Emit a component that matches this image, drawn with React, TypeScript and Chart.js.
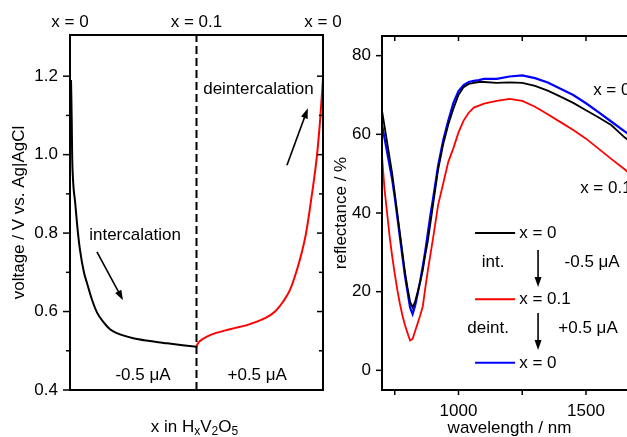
import React, { useEffect, useRef } from "react";
import { Chart, registerables } from "chart.js";

Chart.register(...registerables);

const FONT = '"Liberation Sans", Arial, sans-serif';
Chart.defaults.font.family = FONT;

// ---------- Left panel: voltage vs x ----------
const xIntercalation = [0.0008, 0.0011, 0.0014, 0.0017, 0.0025, 0.004, 0.0063, 0.0079, 0.011, 0.0134, 0.0174, 0.0213, 0.026, 0.0316, 0.037, 0.05, 0.063, 0.077, 0.089, 0.1];
const vIntercalation = [1.19, 1.14, 1.08, 1.0, 0.93, 0.88, 0.8, 0.757, 0.7, 0.673, 0.63, 0.598, 0.575, 0.555, 0.545, 0.532, 0.525, 0.519, 0.514, 0.51];
const xDeintercalation = [0.1, 0.1006, 0.105, 0.1107, 0.1265, 0.1423, 0.1542, 0.1621, 0.1684, 0.1739, 0.1802, 0.1834, 0.1866, 0.1913, 0.1953, 0.198, 0.2];
const vDeintercalation = [0.51, 0.516, 0.53, 0.54, 0.555, 0.568, 0.583, 0.6, 0.625, 0.655, 0.715, 0.753, 0.8, 0.9, 1.0, 1.1, 1.195];
const voltageTicks = [0.4, 0.6, 0.8, 1.0, 1.2];
const voltageMinorTicks = [0.5, 0.7, 0.9, 1.1];
const topLabels = ["x = 0", "x = 0.1", "x = 0"];
const topLabelX = [0, 0.1, 0.2];

// ---------- Right panel: reflectance spectra ----------
const wavelengths = [700, 710, 720, 730, 740, 750, 760, 770, 780, 790, 800, 810, 820, 830, 840, 850, 860, 870, 880, 890, 900, 920, 940, 960, 980, 1000, 1020, 1040, 1060, 1080, 1100, 1150, 1200, 1250, 1300, 1350, 1400, 1450, 1500, 1550, 1600, 1650, 1700];
const reflX0 = [66, 62, 58, 54, 50, 45, 40, 35, 30, 25, 21, 17.5, 16, 17.5, 20, 22.5, 25.5, 29.5, 33, 37.5, 42, 51, 57.5, 62.5, 66.5, 70, 72, 72.8, 73.1, 73.3, 73.3, 73.1, 73.2, 73.1, 72.3, 71.1, 69.6, 68, 66.1, 64.3, 62.3, 59.3, 56.8];
const reflX01 = [54.5, 46, 40, 34, 29, 24.5, 20.5, 17, 14, 11.5, 9.5, 7.6, 8, 10, 12, 14, 16.3, 21, 25.5, 29.5, 33.5, 42, 47.5, 53, 56.5, 60.5, 63.5, 65.5, 66.8, 67.3, 67.8, 68.5, 69, 68.5, 67, 65.1, 63.1, 61.1, 58.9, 56.3, 53.7, 51.2, 48.5];
const reflX0Back = [62.5, 59, 55.5, 52, 48.5, 44, 39, 34, 29, 24, 20, 16, 14.3, 16.5, 19.5, 22.8, 26.5, 30.5, 35, 39.5, 43.5, 52, 58.5, 63.5, 68, 71, 72.5, 73.3, 73.6, 73.8, 74.1, 74.1, 74.7, 75.0, 74.3, 73.2, 71.6, 70, 67.9, 65.6, 63.2, 60.8, 58.6];
const reflTicks = [0, 20, 40, 60, 80];
const wlTicks = [750, 1000, 1250, 1500];
const wlLabels = [1000, 1500];

function arrow(ctx: CanvasRenderingContext2D, x1: number, y1: number, x2: number, y2: number) {
  const head = 10;
  const w = 3.5;
  const ang = Math.atan2(y2 - y1, x2 - x1);
  const c = Math.cos(ang);
  const s = Math.sin(ang);
  ctx.beginPath();
  ctx.moveTo(x1, y1);
  ctx.lineTo(x2 - head * 0.8 * c, y2 - head * 0.8 * s);
  ctx.stroke();
  ctx.beginPath();
  ctx.moveTo(x2, y2);
  ctx.lineTo(x2 - head * c + w * s, y2 - head * s - w * c);
  ctx.lineTo(x2 - head * c - w * s, y2 - head * s + w * c);
  ctx.closePath();
  ctx.fill();
}

function seg(ctx: CanvasRenderingContext2D, x1: number, y1: number, x2: number, y2: number) {
  ctx.beginPath();
  ctx.moveTo(x1, y1);
  ctx.lineTo(x2, y2);
  ctx.stroke();
}

const leftDecor = {
  id: "leftDecor",
  afterDraw(chart: any) {
    const { ctx, chartArea: a } = chart;
    const x = chart.scales.x;
    const y = chart.scales.y;
    ctx.save();
    ctx.strokeStyle = "#000";
    ctx.fillStyle = "#000";
    ctx.lineWidth = 2;
    ctx.strokeRect(a.left, a.top, a.right - a.left, a.bottom - a.top);
    ctx.lineWidth = 1.5;
    voltageTicks.forEach((v) => {
      const py = y.getPixelForValue(v);
      seg(ctx, a.left - 7, py, a.left, py);
      seg(ctx, a.right - 6, py, a.right, py);
    });
    voltageMinorTicks.forEach((v) => {
      const py = y.getPixelForValue(v);
      seg(ctx, a.left - 4, py, a.left, py);
      seg(ctx, a.right - 4, py, a.right, py);
    });
    ctx.font = `17px ${FONT}`;
    ctx.textBaseline = "middle";
    ctx.textAlign = "center";
    topLabels.forEach((t, i) => {
      ctx.fillText(t, x.getPixelForValue(topLabelX[i]), a.top - 13);
    });
    ctx.fillText("intercalation", x.getPixelForValue(0.0514), y.getPixelForValue(0.795));
    ctx.fillText("deintercalation", x.getPixelForValue(0.149), y.getPixelForValue(1.167));
    ctx.fillText("-0.5 \u03bcA", x.getPixelForValue(0.0577), y.getPixelForValue(0.438));
    ctx.fillText("+0.5 \u03bcA", x.getPixelForValue(0.148), y.getPixelForValue(0.438));
    ctx.lineWidth = 1.6;
    arrow(ctx, x.getPixelForValue(0.0213), y.getPixelForValue(0.752), x.getPixelForValue(0.0419), y.getPixelForValue(0.629));
    arrow(ctx, x.getPixelForValue(0.1715), y.getPixelForValue(0.973), x.getPixelForValue(0.188), y.getPixelForValue(1.118));

    // y title
    ctx.save();
    ctx.translate(19, (a.top + a.bottom) / 2);
    ctx.rotate(-Math.PI / 2);
    ctx.fillText("voltage / V vs. Ag|AgCl", 0, 0);
    ctx.restore();

    // x title with subscripts
    const parts: [string, boolean][] = [["x in H", false], ["x", true], ["V", false], ["2", true], ["O", false], ["5", true]];
    const big = `17px ${FONT}`;
    const small = `12px ${FONT}`;
    let total = 0;
    parts.forEach(([t, sub]) => {
      ctx.font = sub ? small : big;
      total += ctx.measureText(t).width;
    });
    let cx = (a.left + a.right) / 2 - total / 2 - 2;
    const ty = 427;
    ctx.textAlign = "left";
    parts.forEach(([t, sub]) => {
      ctx.font = sub ? small : big;
      ctx.fillText(t, cx, sub ? ty + 5 : ty);
      cx += ctx.measureText(t).width;
    });
    ctx.restore();
  },
};

const rightDecor = {
  id: "rightDecor",
  afterDraw(chart: any) {
    const { ctx, chartArea: a } = chart;
    const x = chart.scales.x;
    const y = chart.scales.y;
    ctx.save();
    ctx.strokeStyle = "#000";
    ctx.fillStyle = "#000";
    ctx.lineWidth = 2;
    ctx.strokeRect(a.left, a.top, a.right - a.left, a.bottom - a.top);
    ctx.lineWidth = 1.5;
    reflTicks.forEach((v) => {
      const py = y.getPixelForValue(v);
      seg(ctx, a.left - 6, py, a.left, py);
    });
    wlTicks.forEach((v) => {
      const px = x.getPixelForValue(v);
      seg(ctx, px, a.top, px, a.top + 5);
      seg(ctx, px, a.bottom, px, a.bottom + 5);
    });
    ctx.font = `17px ${FONT}`;
    ctx.textBaseline = "middle";

    // legend
    const legend: [string, string, number][] = [["#000000", "x = 0", 34.9], ["#ff0000", "x = 0.1", 18.1], ["#0000ff", "x = 0", 1.9]];
    legend.forEach(([col, t, r]) => {
      const py = y.getPixelForValue(r);
      ctx.strokeStyle = col;
      ctx.lineWidth = 2;
      seg(ctx, x.getPixelForValue(1065), py, x.getPixelForValue(1222), py);
      ctx.textAlign = "left";
      ctx.fillText(t, x.getPixelForValue(1238), py);
    });
    ctx.strokeStyle = "#000";
    ctx.lineWidth = 1.6;
    ctx.textAlign = "center";
    ctx.fillText("int.", x.getPixelForValue(1136), y.getPixelForValue(27.5));
    ctx.fillText("deint.", x.getPixelForValue(1116), y.getPixelForValue(10.8));
    ctx.fillText("-0.5 \u03bcA", x.getPixelForValue(1524), y.getPixelForValue(27.5));
    ctx.fillText("+0.5 \u03bcA", x.getPixelForValue(1508), y.getPixelForValue(10.8));
    const ax = x.getPixelForValue(1312);
    arrow(ctx, ax, y.getPixelForValue(30.6), ax, y.getPixelForValue(21.2));
    arrow(ctx, ax, y.getPixelForValue(14.6), ax, y.getPixelForValue(5.2));
    ctx.textAlign = "left";
    ctx.fillText("x = 0", x.getPixelForValue(1528), y.getPixelForValue(71.3));
    ctx.fillText("x = 0.1", x.getPixelForValue(1477), y.getPixelForValue(46.3));

    ctx.textAlign = "center";
    ctx.fillText("wavelength / nm", (a.left + a.right) / 2, 428);
    ctx.save();
    ctx.translate(41, (a.top + a.bottom) / 2);
    ctx.rotate(-Math.PI / 2);
    ctx.fillText("reflectance / %", 0, 0);
    ctx.restore();
    ctx.restore();
  },
};

function leftConfig(): any {
  return {
    type: "line",
    data: {
      datasets: [
        {
          data: [{ x: 0.1, y: 0.4 }, { x: 0.1, y: 1.305 }],
          borderColor: "#000",
          borderWidth: 2,
          borderDash: [8, 4],
        },
        {
          data: xIntercalation.map((v, i) => ({ x: v, y: vIntercalation[i] })),
          borderColor: "#000",
          borderWidth: 2,
          cubicInterpolationMode: "monotone",
        },
        {
          data: xDeintercalation.map((v, i) => ({ x: v, y: vDeintercalation[i] })),
          borderColor: "#ff0000",
          borderWidth: 2,
          cubicInterpolationMode: "monotone",
        },
      ],
    },
    options: {
      animation: false,
      responsive: false,
      layout: { padding: { left: 0, right: 22, top: 35, bottom: 47 } },
      plugins: { legend: { display: false }, tooltip: { enabled: false } },
      elements: { point: { radius: 0 }, line: { tension: 0 } },
      scales: {
        x: { type: "linear", min: 0, max: 0.2, display: false },
        y: {
          type: "linear",
          min: 0.4,
          max: 1.305,
          grid: { display: false, drawTicks: false },
          border: { display: false },
          ticks: {
            padding: 12,
            color: "#000",
            font: { family: FONT, size: 17 },
            callback: (v: number) => Number(v).toFixed(1),
          },
          afterBuildTicks: (s: any) => {
            s.ticks = voltageTicks.map((v) => ({ value: v }));
          },
          afterFit: (s: any) => {
            s.width = 70;
          },
        },
      },
    },
    plugins: [leftDecor],
  };
}

function rightConfig(): any {
  const mk = (vals: number[]) => wavelengths.map((w, i) => ({ x: w, y: vals[i] }));
  return {
    type: "line",
    data: {
      datasets: [
        { data: mk(reflX0), borderColor: "#000000", borderWidth: 1.8 },
        { data: mk(reflX01), borderColor: "#ff0000", borderWidth: 1.8 },
        { data: mk(reflX0Back), borderColor: "#0000ff", borderWidth: 2.2 },
      ],
    },
    options: {
      animation: false,
      responsive: false,
      layout: { padding: { left: 0, right: 8, top: 36, bottom: 0 } },
      plugins: { legend: { display: false }, tooltip: { enabled: false } },
      elements: { point: { radius: 0 }, line: { tension: 0 } },
      scales: {
        x: {
          type: "linear",
          min: 700,
          max: 1700,
          grid: { display: false, drawTicks: false },
          border: { display: false },
          ticks: {
            padding: 11,
            color: "#000",
            autoSkip: false,
            maxRotation: 0,
            font: { family: FONT, size: 17 },
            callback: (v: number) => (wlLabels.includes(Number(v)) ? String(v) : ""),
          },
          afterBuildTicks: (s: any) => {
            s.ticks = wlTicks.map((v) => ({ value: v }));
          },
          afterFit: (s: any) => {
            s.height = 47;
          },
        },
        y: {
          type: "linear",
          min: -5,
          max: 85,
          grid: { display: false, drawTicks: false },
          border: { display: false },
          ticks: {
            padding: 11,
            color: "#000",
            font: { family: FONT, size: 17 },
            callback: (v: number) => String(v),
          },
          afterBuildTicks: (s: any) => {
            s.ticks = reflTicks.map((v) => ({ value: v }));
          },
          afterFit: (s: any) => {
            s.width = 82;
          },
        },
      },
    },
    plugins: [rightDecor],
  };
}

export default function App() {
  const leftRef = useRef<HTMLCanvasElement>(null);
  const rightRef = useRef<HTMLCanvasElement>(null);
  useEffect(() => {
    const c1 = new Chart(leftRef.current as HTMLCanvasElement, leftConfig());
    const c2 = new Chart(rightRef.current as HTMLCanvasElement, rightConfig());
    return () => {
      c1.destroy();
      c2.destroy();
    };
  }, []);
  return (
    <div style={{ position: "fixed", left: 0, top: 0, width: 627, height: 437, overflow: "hidden", background: "#fff" }}>
      <canvas ref={leftRef} width={345} height={437} style={{ position: "absolute", left: 0, top: 0, width: 345, height: 437 }} />
      <canvas ref={rightRef} width={345} height={437} style={{ position: "absolute", left: 300, top: 0, width: 345, height: 437 }} />
    </div>
  );
}
